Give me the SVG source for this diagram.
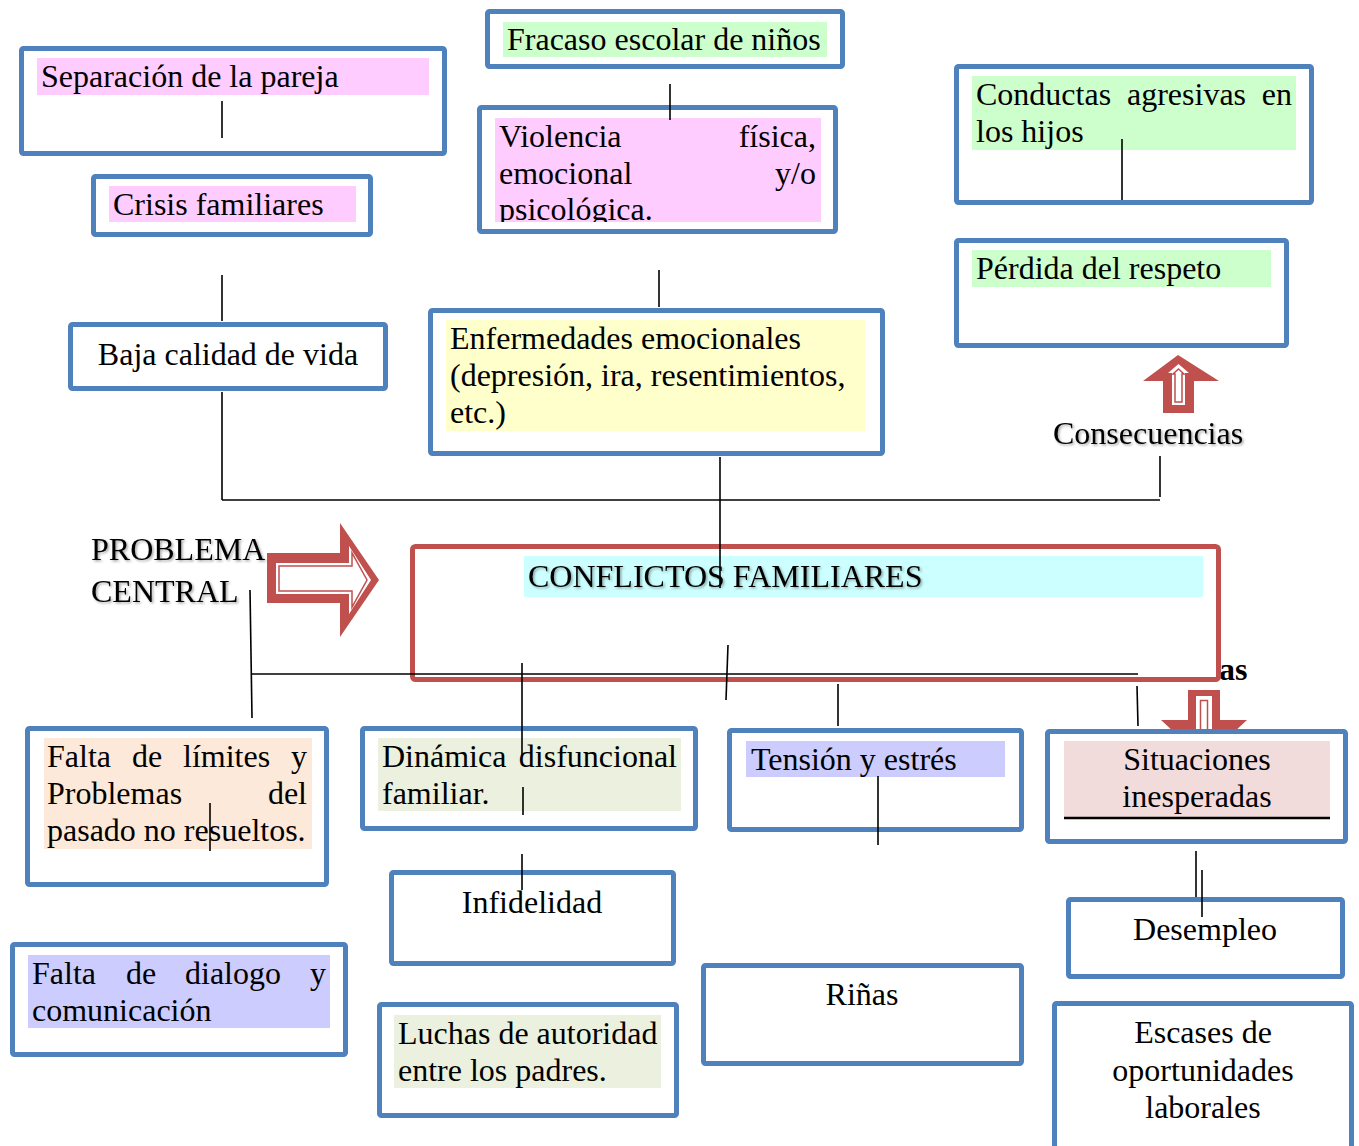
<svg xmlns="http://www.w3.org/2000/svg" width="1359" height="1146" viewBox="0 0 1359 1146">
<style>
.box{fill:#fff;stroke:#4F81BD;stroke-width:5}
.red{fill:#fff;stroke:#C0504D;stroke-width:5}
.t{font-family:"Liberation Serif","Times New Roman",serif;font-size:32px;fill:#000}
.c{text-anchor:middle}
.e{text-anchor:end}
.conn line{stroke:#000;stroke-width:1.6}
.pink{fill:#FFCCFF}.green{fill:#CCFFCC}.yellow{fill:#FFFFCC}.cyan{fill:#CCFFFF}
.peach{fill:#FDE9D9}.olive{fill:#EBF1DE}.lav{fill:#CCCCFF}.rose{fill:#F2DCDB}
.ar{fill:#C0504D}
</style>
<defs>
<filter id="sh" x="-5%" y="-20%" width="110%" height="150%">
<feDropShadow dx="1.5" dy="1.5" stdDeviation="1" flood-color="#000" flood-opacity="0.35"/>
</filter>
<clipPath id="clipV"><rect x="495" y="118" width="326" height="104"/></clipPath>
</defs>
<rect width="1359" height="1146" fill="#fff"/>

<!-- Arrows -->
<g id="arrow-right">
<polygon class="ar" points="267,553 340,553 340,523 379,580 340,637 340,603 267,603"/>
<polygon fill="#fff" points="276,563 349,563 349,546 371,580 349,614 349,594 276,594"/>
<polygon fill="#fff" stroke="#C0504D" stroke-width="1.5" points="279,566 352,566 352,553 367,580 352,607 352,591 279,591"/>
</g>
<g id="arrow-up">
<polygon class="ar" points="1178,355 1219,381 1194,381 1194,413 1163,413 1163,381 1143,381"/>
<polygon fill="#fff" points="1178.5,364 1189,373 1185,373 1185,405 1172,405 1172,373 1168,373"/>
<polygon fill="#fff" stroke="#C0504D" stroke-width="1.5" points="1178.5,369 1184,374 1182,374 1182,402 1175,402 1175,374 1173,374"/>
</g>
<g id="arrow-down">
<polygon class="ar" points="1188,690 1220,690 1220,720 1247,720 1204,760 1161,720 1188,720"/>
<rect x="1196" y="696" width="16" height="40" fill="#fff"/>
<rect x="1200.5" y="700.5" width="7" height="36" fill="#fff" stroke="#C0504D" stroke-width="1.5"/>
</g>

<text class="t" x="1219" y="680" font-weight="bold">as</text>

<!-- Top nodes -->
<g id="n-separacion">
<rect class="box" x="21.5" y="48.5" width="423" height="105" rx="2"/>
<rect class="pink" x="37" y="58" width="392" height="37"/>
<text class="t" x="41" y="87">Separación de la pareja</text>
</g>
<g id="n-crisis">
<rect class="box" x="93.5" y="176.5" width="277" height="58" rx="2"/>
<rect class="pink" x="109" y="186" width="247" height="36"/>
<text class="t" x="113" y="215">Crisis familiares</text>
</g>
<g id="n-fracaso">
<rect class="box" x="487.5" y="11.5" width="355" height="55" rx="2"/>
<rect class="green" x="503" y="22" width="324" height="35"/>
<text class="t" x="507" y="50">Fracaso escolar de niños</text>
</g>
<g id="n-violencia">
<rect class="box" x="479.5" y="107.5" width="356" height="124" rx="2"/>
<rect class="pink" x="495" y="118" width="326" height="104"/>
<g clip-path="url(#clipV)">
<text class="t" x="499" y="147">Violencia</text>
<text class="t e" x="816" y="147">física,</text>
<text class="t" x="499" y="184">emocional</text>
<text class="t e" x="816" y="184">y/o</text>
<text class="t" x="499" y="220">psicológica.</text>
</g>
</g>
<g id="n-conductas">
<rect class="box" x="956.5" y="66.5" width="355" height="136" rx="2"/>
<rect class="green" x="972" y="76" width="324" height="74"/>
<text class="t" x="976" y="105">Conductas</text>
<text class="t" x="1127" y="105">agresivas</text>
<text class="t e" x="1292" y="105">en</text>
<text class="t" x="976" y="142">los hijos</text>
</g>
<g id="n-perdida">
<rect class="box" x="956.5" y="240.5" width="330" height="105" rx="2"/>
<rect class="green" x="972" y="250" width="299" height="37"/>
<text class="t" x="976" y="279">Pérdida del respeto</text>
</g>
<g id="n-baja">
<rect class="box" x="70.5" y="324.5" width="315" height="64" rx="2"/>
<text class="t c" x="228" y="365">Baja calidad de vida</text>
</g>
<g id="n-enfermedades">
<rect class="box" x="430.5" y="310.5" width="452" height="143" rx="2"/>
<rect class="yellow" x="446" y="320" width="419" height="111"/>
<text class="t" x="450" y="349">Enfermedades emocionales</text>
<text class="t" x="450" y="386">(depresión, ira, resentimientos,</text>
<text class="t" x="450" y="423">etc.)</text>
</g>
<g id="n-consecuencias">
<text class="t" x="1053" y="444" filter="url(#sh)">Consecuencias</text>
</g>
<g id="n-problema">
<text class="t" x="91" y="560" filter="url(#sh)">PROBLEMA</text>
<text class="t" x="91" y="602" filter="url(#sh)">CENTRAL</text>
</g>
<g id="n-conflictos">
<rect class="red" x="412.5" y="546.5" width="806" height="133" rx="3"/>
<rect class="cyan" x="524" y="556" width="679" height="41"/>
<text class="t" x="528" y="587" filter="url(#sh)">CONFLICTOS FAMILIARES</text>
</g>

<!-- Bottom nodes -->
<g id="n-limites">
<rect class="box" x="27.5" y="728.5" width="299" height="156" rx="2"/>
<rect class="peach" x="44" y="738" width="268" height="111"/>
<text class="t" x="47" y="767">Falta</text>
<text class="t" x="132" y="767">de</text>
<text class="t" x="183" y="767">límites</text>
<text class="t e" x="307" y="767">y</text>
<text class="t" x="47" y="804">Problemas</text>
<text class="t e" x="307" y="804">del</text>
<text class="t" x="47" y="841">pasado no resueltos.</text>
</g>
<g id="n-dinamica">
<rect class="box" x="362.5" y="728.5" width="333" height="100" rx="2"/>
<rect class="olive" x="378" y="738" width="303" height="73"/>
<text class="t" x="382" y="767">Dinámica</text>
<text class="t e" x="677" y="767">disfuncional</text>
<text class="t" x="382" y="804">familiar.</text>
</g>
<g id="n-tension">
<rect class="box" x="729.5" y="730.5" width="292" height="99" rx="2"/>
<rect class="lav" x="746" y="741" width="259" height="36"/>
<text class="t" x="751" y="770">Tensión y estrés</text>
</g>
<g id="n-situaciones">
<rect class="box" x="1047.5" y="731.5" width="298" height="110" rx="2"/>
<rect class="rose" x="1064" y="741" width="266" height="76"/>
<text class="t c" x="1197" y="770">Situaciones</text>
<text class="t c" x="1197" y="807">inesperadas</text>
<line x1="1064" y1="818" x2="1330" y2="818" stroke="#000" stroke-width="2.5"/>
</g>
<g id="n-infidelidad">
<rect class="box" x="391.5" y="872.5" width="282" height="91" rx="2"/>
<text class="t c" x="532" y="913">Infidelidad</text>
</g>
<g id="n-dialogo">
<rect class="box" x="12.5" y="944.5" width="333" height="110" rx="2"/>
<rect class="lav" x="28" y="955" width="302" height="73"/>
<text class="t" x="32" y="984">Falta</text>
<text class="t" x="126" y="984">de</text>
<text class="t" x="185" y="984">dialogo</text>
<text class="t e" x="326" y="984">y</text>
<text class="t" x="32" y="1021">comunicación</text>
</g>
<g id="n-luchas">
<rect class="box" x="379.5" y="1004.5" width="297" height="111" rx="2"/>
<rect class="olive" x="394" y="1015" width="267" height="73"/>
<text class="t" x="398" y="1044">Luchas de autoridad</text>
<text class="t" x="398" y="1081">entre los padres.</text>
</g>
<g id="n-rinas">
<rect class="box" x="703.5" y="965.5" width="318" height="98" rx="2"/>
<text class="t c" x="862" y="1005">Riñas</text>
</g>
<g id="n-desempleo">
<rect class="box" x="1068.5" y="899.5" width="274" height="77" rx="2"/>
<text class="t c" x="1205" y="940">Desempleo</text>
</g>
<g id="n-escases">
<rect class="box" x="1054.5" y="1003.5" width="297" height="150" rx="2"/>
<text class="t c" x="1203" y="1043">Escases de</text>
<text class="t c" x="1203" y="1081">oportunidades</text>
<text class="t c" x="1203" y="1118">laborales</text>
</g>

<!-- Connectors -->
<g id="connectors" class="conn">
<line x1="222" y1="101" x2="222" y2="138"/>
<line x1="222" y1="275" x2="222" y2="321"/>
<line x1="222" y1="392" x2="222" y2="500"/>
<line x1="222" y1="500" x2="1160" y2="500"/>
<line x1="1160" y1="456" x2="1160" y2="497"/>
<line x1="670" y1="84" x2="670" y2="120"/>
<line x1="659" y1="270" x2="659" y2="307"/>
<line x1="720" y1="457" x2="720" y2="588"/>
<line x1="1122" y1="139" x2="1122" y2="200"/>
<line x1="250" y1="590" x2="252" y2="718"/>
<line x1="252" y1="674" x2="1138" y2="674"/>
<line x1="522" y1="663" x2="522" y2="755"/>
<line x1="523" y1="787" x2="523" y2="815"/>
<line x1="522" y1="854" x2="522" y2="890"/>
<line x1="728" y1="645" x2="726" y2="700"/>
<line x1="838" y1="684" x2="838" y2="726"/>
<line x1="1137" y1="686" x2="1138" y2="726"/>
<line x1="878" y1="776" x2="878" y2="845"/>
<line x1="210" y1="803" x2="210" y2="851"/>
<line x1="1196" y1="851" x2="1196" y2="897"/>
<line x1="1202" y1="870" x2="1202" y2="917"/>
</g>
</svg>
